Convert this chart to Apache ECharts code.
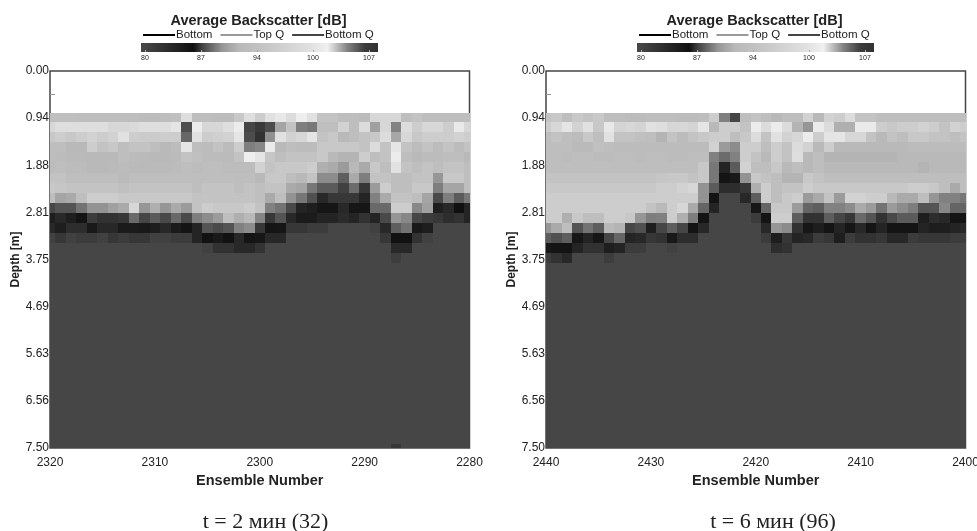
<!DOCTYPE html>
<html><head><meta charset="utf-8">
<style>html,body{margin:0;padding:0;background:#fff}#c{width:977px;height:531px}</style>
<script src="https://cdn.jsdelivr.net/npm/echarts@6/dist/echarts.min.js"></script>
</head><body><div id="c"></div>
<script>
// colour scale: dB -> grey level
const scaleDb   = [80, 85.8, 87, 89.3, 91.4, 94, 100, 102, 104.4, 106.5, 108];
const scaleGrey = [70, 16, 70, 150, 185, 195, 225, 240, 130, 60, 50];
const scaleTicks = [80, 86.75, 93.5, 100.25, 107];
const depthEdges = [0.84,1.02,1.22,1.42,1.62,1.82,2.02,2.22,2.42,2.62,2.82,3.02,3.22,3.42,3.62,3.82,7.42,7.5];
const depthTicks = 0.9375;
const leftFirstEnsemble = 2320;
const rightFirstEnsemble = 2440;

const leftRows = [
[93,93,93,92.7,92.7,92.7,92.7,92.7,92.7,92.2,92.2,92.7,93.2,99.4,92.7,92.7,92.2,92.2,95,99.4,96,100,100.9,99,101.8,100,94,94,92.7,92.7,92.2,98,98,98,92.7,94,92.7,92.7,92.7,92.7,92.7],
[98,99.4,99.4,99.4,99.4,99.4,98,98,98.6,99.4,99.4,99.4,100.6,106,101.5,98,98,99.4,101.5,106.2,107,106,90.2,94,104.5,104.7,92.7,92.7,97,92.7,99,89.9,98,104.4,99,96,98,98,96,101.2,98],
[95,96,95,96,97,96,97,100,96,95.6,95.6,96,96,105.2,100,96,96.6,97,100.6,106,108,104.1,100,97,98,100.6,94,95,91.4,92.7,94,95,99,103.6,98,95,96,96,96,97,96],
[92.7,92.7,91.4,91.4,96,94,95,92.7,94,94,92.7,91.4,92.2,100.6,92.7,92.2,94,92.2,96,104.5,104.3,101.2,91.4,92.7,92.2,92.2,95,95,95,95,94,99,94,100.6,94,92.2,94,92.2,94,92.2,94],
[92.7,92.2,91.7,91.7,91.4,91.4,91.4,92.7,92.2,91.7,91.4,91.4,91.9,94,93.2,92.2,92.2,91.9,94,101.8,100.6,94.6,92.7,94,94,94,95,91.4,91.1,91.1,96,92.7,94,101.5,92.7,91.4,92.2,92.2,92.7,92.7,91.4],
[92.2,92.7,92.2,92.2,91.4,91.4,91.7,92.2,91.7,91.7,91.7,91.7,92.2,92.7,92.2,92.7,92.7,92.2,92.2,92.2,97,94,95,95,95,96,90.8,90.5,89.6,91.4,90.5,95,92.7,100,94,92.7,94,92.7,94,94,92.7],
[94,94,92.7,92.7,92.7,92.7,92.7,92,92.7,92.7,92.7,92.7,92.7,92.7,92.7,92.7,92.7,92.7,92.7,92.7,91.4,95,95,92.7,91.4,94,89,89,87.7,90.5,88.6,94,94,92.7,92.7,94,94,89.3,95,95,92.7],
[95,94.6,94,94,94,94,94,93.2,94,94,94,94,94,94,92.7,94,94,94,92.7,94,93,94,94,90.5,90.2,88.4,87.6,87.6,80.5,88.1,81.6,89.6,96,92.7,92.7,95,95,88.6,90.2,90.2,92.7],
[92.7,90.2,90.5,92.7,96,96,96,95,95,95,95,95,95,95,94,94,94,94,94,94,93,90.5,92.7,89.2,88.4,87.3,83.2,81.6,81.6,81.6,83.7,88.7,90.5,94,94,92.7,90.2,87.1,88.6,87.6,88.4],
[87,87.4,87.4,88.3,89.2,89.2,89.9,90.5,98,89.3,90.8,89.3,90.5,89.6,94,96,95,95,95,96,94,88.7,88.3,87.1,83.7,84.3,85.2,85.2,83.2,85.2,85.2,88,88,96,96,88.9,89.9,84.3,83.2,85.8,83.7],
[84.3,83.2,84.3,85.4,81.1,82.1,82.1,81.6,88,87,87.6,87.1,88,87.1,88.6,89,89.6,92.7,90.8,91.4,88.8,81.6,87.4,83.2,84.6,84.6,83.7,83.7,82.9,83.7,82.1,83.7,87.1,89.3,88.9,87,81.1,81.6,82.7,82.1,83.7],
[83.2,84.3,82.7,82.7,84.8,83.2,83.2,84.6,84.6,84.8,84.3,83.2,84.6,85.4,83.7,87.4,87.1,87.4,88.7,89,81.6,85.4,85.2,81.6,81.6,81.1,81.1,80,80,80,80,80.5,83.2,87.7,88.3,84.8,84.3,80,80,80,80],
[80.5,81.6,80.5,81.1,81.1,80.5,81.6,81.1,81.6,81.6,80.5,80.5,81.1,81.1,83.7,85.6,84.8,85.6,83.2,85.4,85,83.2,83.2,80,80,80,80,80,80,80,80,80,81.6,85.6,85.6,82.1,80.5,80,80,80,80],
[80,80,80,80,80,80,80,80,80,80,80,80,80,80,80,80.5,82.1,82.1,83.2,83.2,82,80,80,80,80,80,80,80,80,80,80,80,80,83.2,83.2,80,80,80,80,80,80],
[80,80,80,80,80,80,80,80,80,80,80,80,80,80,80,80,80,80,80,80,80,80,80,80,80,80,80,80,80,80,80,80,80,81,80,80,80,80,80,80,80],
[80,80,80,80,80,80,80,80,80,80,80,80,80,80,80,80,80,80,80,80,80,80,80,80,80,80,80,80,80,80,80,80,80,80,80,80,80,80,80,80,80],
[80,80,80,80,80,80,80,80,80,80,80,80,80,80,80,80,80,80,80,80,80,80,80,80,80,80,80,80,80,80,80,80,80,81.6,80,80,80,80,80,80,80]
];

const rightRows = [
[94,95,92.7,95,94,95,92.7,92.7,92.2,92.2,92.7,92.7,92.7,92.2,92.2,92.7,96,104.5,106.2,92.7,94,92.7,91.4,92.7,92.7,97,91.4,97,96,99,94,94,92.7,92.7,92.7,92.7,92.7,92.7,92.7,92.7,92.7],
[96,98,100.6,97,100,95,100.9,97.4,98,97.4,100,99.4,98,98,97.4,100.6,91.4,96,96,94,101.5,99,101.5,99,91.1,89.3,101.2,99,90.8,90.8,101.2,101.2,96,95,96,96,97,96,94,97,96],
[92.7,94,92.7,92.2,95,92.7,100,94,94,93.2,92.7,91.1,94,92.2,94,95,96,96,92.7,95,99,94,100,97,98,101.5,96,100.4,100.6,98,98,94,91.4,94,92.7,95,95,94,94,92.7,94],
[92.7,92.7,92.7,91.7,91.7,93.2,92.7,92.2,92.2,92.2,92.2,92.2,92.2,92.2,92.2,92.2,97,89.6,89,96,96,92.7,96,94,99,97,91.4,96,91.4,91.4,91.4,91.4,91.4,91.4,91.4,92.2,92.2,92.2,92.2,92.2,92.2],
[92.7,92.7,92.2,92.7,92.7,92.2,92.2,92.7,92.7,92.2,92.7,92.7,92.2,92.2,92.7,92.7,88.7,88.1,88.7,96,94,91.4,96,94,99.4,91.4,92.7,91.1,91.1,91.1,91.1,91.1,91.1,91.1,91.4,91.4,91.4,91.4,91.4,91.4,91.4],
[92.7,92.7,92.7,92.7,92.7,92.7,92.7,92.7,92.7,92.7,92.7,92.7,92.7,92.7,92.7,95,88.4,83.7,87.6,97,92.7,92.7,95,91.4,92.7,91.4,92.7,91.4,91.4,91.4,91.4,91.4,91.4,91.4,91.4,91.4,91.1,91.4,91.4,91.4,91.4],
[94,94,94,94,94,94,94,94,94,94,94,94.6,95,95,94,95,88.4,85.4,84.8,89.2,95,94,92.7,91.1,91.1,95,94,92.7,92.7,92.7,92.7,92.7,92.7,92.7,92.7,92.7,92.7,92.7,92.7,92.7,92.7],
[95,95,95,95,95,95,95,95,95,95,95,96,96,97,98,89.2,87.6,82.7,82.7,81.6,90.8,96,92.7,94,94,96,95,95,95,95,95,95,95,95,95,96,96,95,92.7,90.5,92.7],
[96,96,96,96,96,96,96,96,96,96,96,96,96,96,96,89.2,85.4,87,87,83.2,87.7,96,92.7,95,96,89.6,90.5,94,89.6,97,97,96,96,91.4,90.5,90.5,92.7,89.3,88.7,88.7,88.4],
[96,96,96,96,96,96,96,96,96,96,94,91.4,96,98,90.5,87.9,83.7,80,80,80,85,87.9,95,95,89.6,87.9,87.7,88.7,88.7,89,90.5,89.6,88.3,89.6,89,88.6,87.4,87.4,88.9,87.9,87.9],
[96,96,90.8,95,92.7,92.7,96,96,95,89.3,88.6,88.7,96,90.8,88.6,85.4,80,80,80,80,81.1,85.4,96,96,87.7,82.1,82.1,87.7,87,81.6,88,87.4,82.1,87.1,87.6,87.6,84.3,82.7,83.2,85.4,85.4],
[89.3,90.5,92.7,87.4,88.3,87.7,91.4,91.1,87,87.3,84.3,87,87.7,87,85.4,83.2,80,80,80,80,80,83.2,89.3,89,82.1,85.2,84.3,85.4,83.7,85.2,83.2,85.4,83.7,85.4,85.4,85.4,83.7,84.3,84.3,83.7,83.2],
[87.7,87.3,87.7,85.2,83.7,85.2,87,87.9,83.7,83.2,81.6,82.1,84.8,82.7,82.7,80,80,80,80,80,80,81.1,84.3,81.6,83.7,83.2,81.1,81.6,84.3,81.1,82.1,82.1,81.6,83.2,83.2,81.1,81.6,81.6,81.6,81.1,81.1],
[84.8,85.4,85.4,83.7,82.1,82.1,84.3,83.7,81.1,81.1,80,80,80.5,80,80,80,80,80,80,80,80,80,82.7,82.1,80,80,80,80,80,80,80,80,80,80,80,80,80,80,80,80,80],
[81.1,82.1,83.2,80,80,80,81,80,80,80,80,80,80,80,80,80,80,80,80,80,80,80,80,80,80,80,80,80,80,80,80,80,80,80,80,80,80,80,80,80,80],
[80,80,80,80,80,80,80,80,80,80,80,80,80,80,80,80,80,80,80,80,80,80,80,80,80,80,80,80,80,80,80,80,80,80,80,80,80,80,80,80,80],
[80,80,80,80,80,80,80,80,80,80,80,80,80,80,80,80,80,80,80,80,80,80,80,80,80,80,80,80,80,80,80,80,80,80,80,80,80,80,80,80,80]
];

const sans = '"Liberation Sans", Arial, sans-serif';
const serif = '"Liberation Serif", "Times New Roman", serif';
const legendNames = ['Bottom', 'Top Q', 'Bottom Q'];
const panelOffset = 496;

function grey(db) {
  let i = 0;
  while (i < scaleDb.length - 2 && db > scaleDb[i + 1]) i++;
  const t = Math.max(0, Math.min(1, (db - scaleDb[i]) / (scaleDb[i + 1] - scaleDb[i])));
  const g = Math.round(scaleGrey[i] + t * (scaleGrey[i + 1] - scaleGrey[i]));
  return 'rgb(' + g + ',' + g + ',' + g + ')';
}

function cells(rows, first) {
  const out = [];
  rows.forEach((row, r) => row.forEach((v, k) => {
    out.push([first - k, depthEdges[r], depthEdges[r + 1], v]);
  }));
  return out;
}

function renderCell(params, api) {
  const e = api.value(0);
  const a = api.coord([e + 0.5, api.value(1)]);
  const b = api.coord([e - 0.5, api.value(2)]);
  const x0 = Math.round(a[0]), y0 = Math.round(a[1]);
  return {
    type: 'rect',
    shape: { x: x0, y: y0, width: Math.round(b[0]) - x0, height: Math.round(b[1]) - y0 },
    style: { fill: grey(api.value(3)) }
  };
}

function renderBar(params, api) {
  const a = api.coord([api.value(0), 0]);
  const b = api.coord([api.value(1), 1]);
  const lo = api.value(0), hi = api.value(1);
  const stops = scaleDb.map((d, i) => ({
    offset: Math.max(0, Math.min(1, (d - lo) / (hi - lo))),
    color: 'rgb(' + scaleGrey[i] + ',' + scaleGrey[i] + ',' + scaleGrey[i] + ')'
  }));
  return {
    type: 'rect',
    shape: { x: a[0], y: b[1], width: b[0] - a[0], height: a[1] - b[1] },
    style: { fill: new echarts.graphic.LinearGradient(0, 0, 1, 0, stops) }
  };
}

const option = {
  animation: false, backgroundColor: '#fff',
  title: [], legend: [], grid: [], xAxis: [], yAxis: [], series: []
};

function panel(i, rows, first, caption, capX) {
  const off = i * panelOffset;
  const g = i * 2;
  option.title.push({
    text: 'Average Backscatter [dB]', left: 258.5 + off, top: 13, padding: 0, textAlign: 'center',
    textStyle: { fontFamily: sans, fontSize: 14.5, fontWeight: 'bold', color: '#222' }
  });
  option.title.push({
    text: caption, left: capX, top: 511, padding: 0, textAlign: 'center',
    textStyle: { fontFamily: serif, fontSize: 22, fontWeight: 'normal', color: '#222' }
  });
  option.legend.push({
    left: 142 + off, top: 29, padding: 0, itemWidth: 32, itemHeight: 12, itemGap: 7,
    selectedMode: false, data: legendNames, itemStyle: { opacity: 0 },
    textStyle: { fontFamily: sans, fontSize: 11.5, color: '#222', padding: [0, 0, 0, -4] }
  });
  option.grid.push({
    left: 50 + off, top: 71, width: 419.5, height: 377, show: true, outerBoundsMode: 'none',
    backgroundColor: '#fff', borderColor: '#444', borderWidth: 1.5
  });
  option.grid.push({ left: 141 + off, top: 43, width: 237, height: 9, outerBoundsMode: 'none' });
  option.xAxis.push({
    type: 'value', gridIndex: g, min: first - 40, max: first, interval: 10, inverse: true,
    name: 'Ensemble Number', nameLocation: 'middle', nameGap: 25,
    nameTextStyle: { fontFamily: sans, fontSize: 14.5, fontWeight: 'bold', color: '#222' },
    axisLine: { show: false }, axisTick: { show: false }, splitLine: { show: false },
    axisLabel: { fontFamily: sans, fontSize: 12, color: '#222', margin: 9, formatter: v => String(v) }
  });
  option.yAxis.push({
    type: 'value', gridIndex: g, min: 0, max: 7.5, interval: depthTicks, inverse: true,
    name: 'Depth [m]', nameLocation: 'middle', nameGap: 28, nameRotate: 90,
    nameTextStyle: { fontFamily: sans, fontSize: 12, fontWeight: 'bold', color: '#222' },
    axisLine: { show: false }, axisTick: { show: false, inside: true }, splitLine: { show: false },
    minorTick: { show: true, splitNumber: 2, length: 5, lineStyle: { color: '#999' } },
    axisLabel: { fontFamily: sans, fontSize: 12, color: '#222', margin: 1, formatter: v => v.toFixed(2) }
  });
  option.xAxis.push({
    type: 'value', gridIndex: g + 1, min: 79.52, max: 108.09, z: 5,
    axisLine: { show: false }, splitLine: { show: false },
    axisTick: { show: true, inside: true, length: 2, customValues: scaleTicks, lineStyle: { color: '#aaa' } },
    axisLabel: { fontFamily: sans, fontSize: 7, color: '#222', margin: 3, customValues: scaleTicks,
                 formatter: v => String(Math.round(v)) }
  });
  option.yAxis.push({ type: 'value', gridIndex: g + 1, min: 0, max: 1, show: false });
  option.series.push({
    type: 'custom', xAxisIndex: g, yAxisIndex: g, clip: true, silent: true, z: 2,
    renderItem: renderCell, encode: { x: 0, y: 1 }, data: cells(rows, first)
  });
  option.series.push({
    type: 'custom', xAxisIndex: g + 1, yAxisIndex: g + 1, silent: true,
    renderItem: renderBar, data: [[79.52, 108.09]]
  });
}

panel(0, leftRows, leftFirstEnsemble, 't = 2 мин (32)', 265.5);
panel(1, rightRows, rightFirstEnsemble, 't = 6 мин (96)', 773);

const lineStyles = { 'Bottom': ['#000', 2], 'Top Q': ['#999', 1], 'Bottom Q': ['#444', 1] };
legendNames.forEach(n => option.series.push({
  type: 'line', name: n, xAxisIndex: 0, yAxisIndex: 0, symbol: 'none', data: [],
  lineStyle: { color: lineStyles[n][0], width: lineStyles[n][1] },
  itemStyle: { color: lineStyles[n][0] }
}));

const chart = echarts.init(document.getElementById('c'), null, { renderer: 'canvas' });
chart.setOption(option);
</script></body></html>
